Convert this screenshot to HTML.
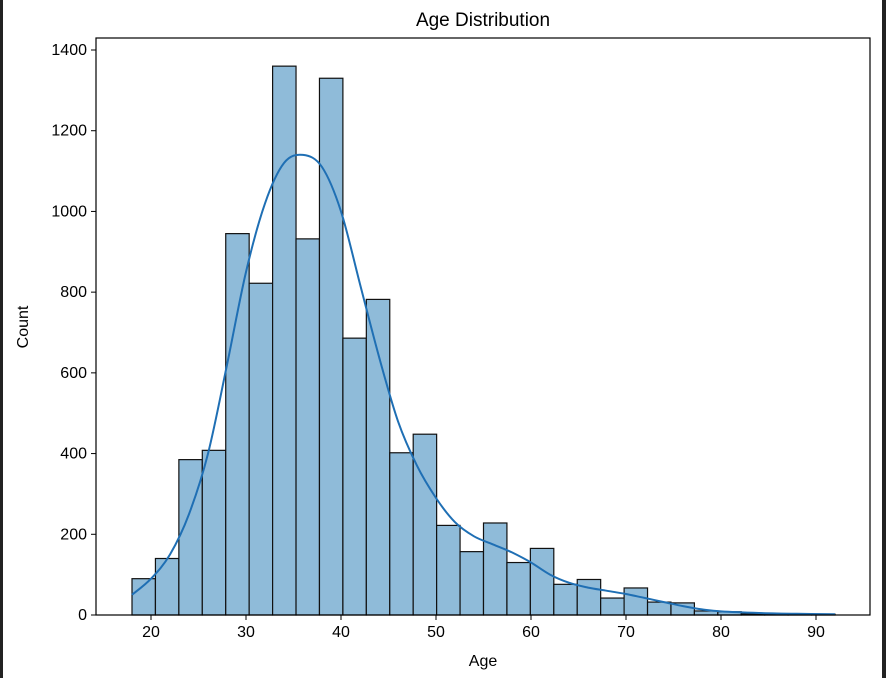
<!DOCTYPE html>
<html><head><meta charset="utf-8"><style>
body{margin:0;background:#fff;font-family:"Liberation Sans","DejaVu Sans",sans-serif}
svg{display:block}
</style></head><body>
<svg id="c" width="886" height="678" xmlns="http://www.w3.org/2000/svg"></svg>
<script>
const binStart=18, binWidth=74/30;
const counts=[90,140,385,408,945,822,1360,932,1330,686,782,402,448,222,157,228,130,165,76,88,42,67,32,30,10,8,3,3,2,2];
const kdeX=[18,20,22,24,26,28,30,32,34,36,38,40,42,44,46,48,50,52,54,56,58,60,62,64,66,68,70,72,74,76,78,80,84,88,92];
const kdeY=[50,90,150,250,400,620,850,1020,1120,1140,1110,1000,820,640,480,370,290,230,195,175,155,130,100,80,68,60,52,42,32,22,14,9,5,3,2];
const xTicks=[20,30,40,50,60,70,80,90];
const yTicks=[0,200,400,600,800,1000,1200,1400];
const L=96,R=870,T=38,B=615;
const X=v=>151+(v-20)*9.5;
const Y=v=>B-v*(B-50)/1400;
const s=document.getElementById('c');const NS='http://www.w3.org/2000/svg';
function mk(t,a,p){const e=document.createElementNS(NS,t);for(const k in a)e.setAttribute(k,a[k]);(p||s).appendChild(e);return e;}
let e;
e=mk('rect',{x:0,y:0,width:3,height:678,fill:'#222'});


e=mk('rect',{x:882,y:0,width:4,height:678,fill:'#222'});


const g=mk('g',{});


counts.forEach((c,i)=>{const x0=X(binStart+i*binWidth),x1=X(binStart+(i+1)*binWidth);
const r=mk('rect',{x:x0,y:Y(c),width:x1-x0,height:B-Y(c),fill:'#8fbbd9',stroke:'#111','stroke-width':1.2},g);

});
const P=kdeX.map((v,i)=>[X(v),Y(kdeY[i])]);
let d='M'+P[0][0].toFixed(1)+','+P[0][1].toFixed(1);
for(let i=0;i<P.length-1;i++){const p0=P[Math.max(0,i-1)],p1=P[i],p2=P[i+1],p3=P[Math.min(P.length-1,i+2)];
const c1=[p1[0]+(p2[0]-p0[0])/6,p1[1]+(p2[1]-p0[1])/6],c2=[p2[0]-(p3[0]-p1[0])/6,p2[1]-(p3[1]-p1[1])/6];
d+='C'+c1.map(n=>n.toFixed(1)).join(',')+' '+c2.map(n=>n.toFixed(1)).join(',')+' '+p2.map(n=>n.toFixed(1)).join(',');}
e=mk('path',{d:d,fill:'none',stroke:'#1f6fb4','stroke-width':2,'stroke-linejoin':'round'});


e=mk('rect',{x:L,y:T,width:R-L,height:B-T,fill:'none',stroke:'#000','stroke-width':1.2});


xTicks.forEach(v=>{mk('line',{x1:X(v),x2:X(v),y1:B,y2:B+5,stroke:'#000'});
e=mk('text',{x:X(v),y:B+22,'text-anchor':'middle','font-size':16});e.textContent=v;

});
yTicks.forEach(v=>{mk('line',{x1:L-5,x2:L,y1:Y(v),y2:Y(v),stroke:'#000'});
e=mk('text',{x:L-9,y:Y(v)+5,'text-anchor':'end','font-size':16});e.textContent=v;

});
e=mk('text',{x:483,y:666,'text-anchor':'middle','font-size':16});e.textContent='Age';


e=mk('text',{x:28,y:327,'text-anchor':'middle','font-size':16,transform:'rotate(-90 28 327)'});e.textContent='Count';


e=mk('text',{x:483,y:26,'text-anchor':'middle','font-size':19});e.textContent='Age Distribution';


</script>
</body></html>
